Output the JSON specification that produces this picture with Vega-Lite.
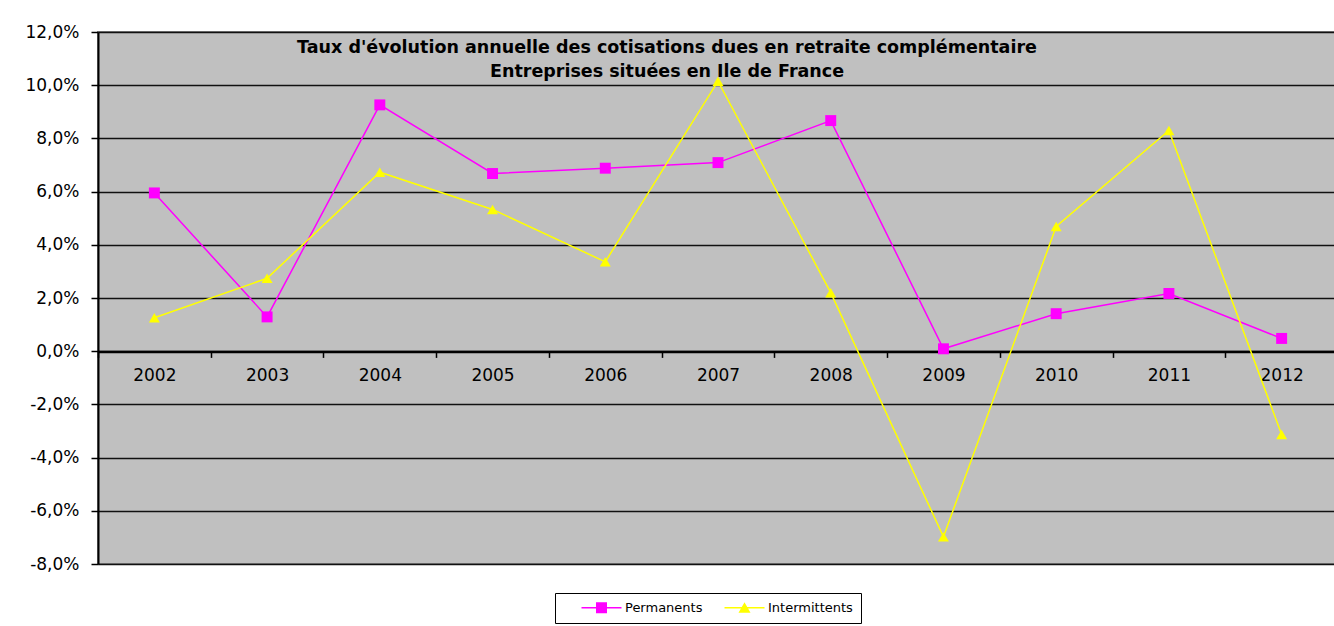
{
  "$schema": "https://vega.github.io/schema/vega-lite/v6.json",
  "width": 1240,
  "height": 532,
  "autosize": {"type": "none"},
  "padding": {"left": 98, "top": 32, "right": 0, "bottom": 62},
  "background": "white",
  "config": {
    "font": "DejaVu Sans",
    "view": {"fill": "#C0C0C0", "stroke": "#808080", "strokeWidth": 2}
  },
  "title": {
    "text": ["Taux d'évolution annuelle  des cotisations  dues en retraite complémentaire", "Entreprises situées en Ile de France"],
    "anchor": "middle",
    "frame": "group",
    "orient": "top",
    "fontSize": 17.5,
    "fontWeight": "bold",
    "font": "DejaVu Sans",
    "color": "black",
    "lineHeight": 24,
    "baseline": "top",
    "offset": 0,
    "dx": -51,
    "dy": 57
  },
  "data": {
    "values": [
      {"annee": "2002", "serie": "Permanents", "taux": 5.95},
      {"annee": "2003", "serie": "Permanents", "taux": 1.29},
      {"annee": "2004", "serie": "Permanents", "taux": 9.26},
      {"annee": "2005", "serie": "Permanents", "taux": 6.68},
      {"annee": "2006", "serie": "Permanents", "taux": 6.88},
      {"annee": "2007", "serie": "Permanents", "taux": 7.09},
      {"annee": "2008", "serie": "Permanents", "taux": 8.67},
      {"annee": "2009", "serie": "Permanents", "taux": 0.09},
      {"annee": "2010", "serie": "Permanents", "taux": 1.41},
      {"annee": "2011", "serie": "Permanents", "taux": 2.17},
      {"annee": "2012", "serie": "Permanents", "taux": 0.48},
      {"annee": "2002", "serie": "Intermittents", "taux": 1.26},
      {"annee": "2003", "serie": "Intermittents", "taux": 2.74},
      {"annee": "2004", "serie": "Intermittents", "taux": 6.73},
      {"annee": "2005", "serie": "Intermittents", "taux": 5.33},
      {"annee": "2006", "serie": "Intermittents", "taux": 3.36},
      {"annee": "2007", "serie": "Intermittents", "taux": 10.15},
      {"annee": "2008", "serie": "Intermittents", "taux": 2.2},
      {"annee": "2009", "serie": "Intermittents", "taux": -6.98},
      {"annee": "2010", "serie": "Intermittents", "taux": 4.69},
      {"annee": "2011", "serie": "Intermittents", "taux": 8.3},
      {"annee": "2012", "serie": "Intermittents", "taux": -3.13}
    ]
  },
  "encoding": {
    "x": {
      "field": "annee",
      "type": "ordinal",
      "bandPosition": 0.5,
      "scale": {"type": "band", "paddingInner": 0, "paddingOuter": 0},
      "axis": {
        "title": null,
        "orient": "bottom",
        "offset": -212.6,
        "labelAngle": 0,
        "labelFontSize": 17,
        "labelFont": "DejaVu Sans",
        "labelColor": "black",
        "labelPadding": 10,
        "tickBand": "extent",
        "tickSize": 6,
        "tickColor": "black",
        "tickWidth": 1.5,
        "domainColor": "black",
        "domainWidth": 2.5
      }
    },
    "y": {
      "field": "taux",
      "type": "quantitative",
      "scale": {"domain": [-8, 12], "nice": false},
      "axis": {
        "title": null,
        "values": [-8, -6, -4, -2, 0, 2, 4, 6, 8, 10, 12],
        "labelExpr": "replace(replace(format(datum.value, '.1f'), '.', ','), '\u2212', '-') + '%'",
        "labelFontSize": 17,
        "labelFont": "DejaVu Sans",
        "labelColor": "black",
        "labelPadding": 12,
        "tickSize": 7,
        "tickColor": "black",
        "tickWidth": 1.5,
        "domainColor": "black",
        "domainWidth": 2,
        "grid": true,
        "gridColor": "#111111",
        "gridWidth": 1.5
      }
    },
    "color": {
      "field": "serie",
      "type": "nominal",
      "scale": {"domain": ["Permanents", "Intermittents"], "range": ["#FF00FF", "#FFFF00"]},
      "legend": {
        "title": null,
        "orient": "none",
        "direction": "horizontal",
        "legendX": 457,
        "legendY": 561,
        "fillColor": "white",
        "strokeColor": "black",
        "padding": 8,
        "labelFontSize": 13,
        "labelFont": "DejaVu Sans",
        "labelColor": "black",
        "symbolSize": 100,
        "symbolStrokeWidth": 0,
        "symbolOffset": 32,
        "labelOffset": 17,
        "columnPadding": 3,
        "encode": {
          "symbols": {
            "update": {
              "shape": {"signal": "datum.value === 'Permanents' ? 'M-4,-0.15H4V0.15H-4Z M-1.1,-1.1H1.1V1.1H-1.1Z' : 'M-4,-0.15H4V0.15H-4Z M0,-1.1L1.2,1H-1.2Z'"},
              "opacity": {"value": 1}
            }
          }
        }
      }
    }
  },
  "layer": [
    {
      "mark": {"type": "line", "strokeWidth": 1.5}
    },
    {
      "transform": [{"filter": "datum.serie === 'Permanents'"}],
      "mark": {"type": "point", "shape": "square", "filled": true, "opacity": 1, "size": 120}
    },
    {
      "transform": [{"filter": "datum.serie === 'Intermittents'"}],
      "mark": {"type": "point", "shape": "triangle-up", "filled": true, "opacity": 1, "size": 120}
    }
  ]
}
